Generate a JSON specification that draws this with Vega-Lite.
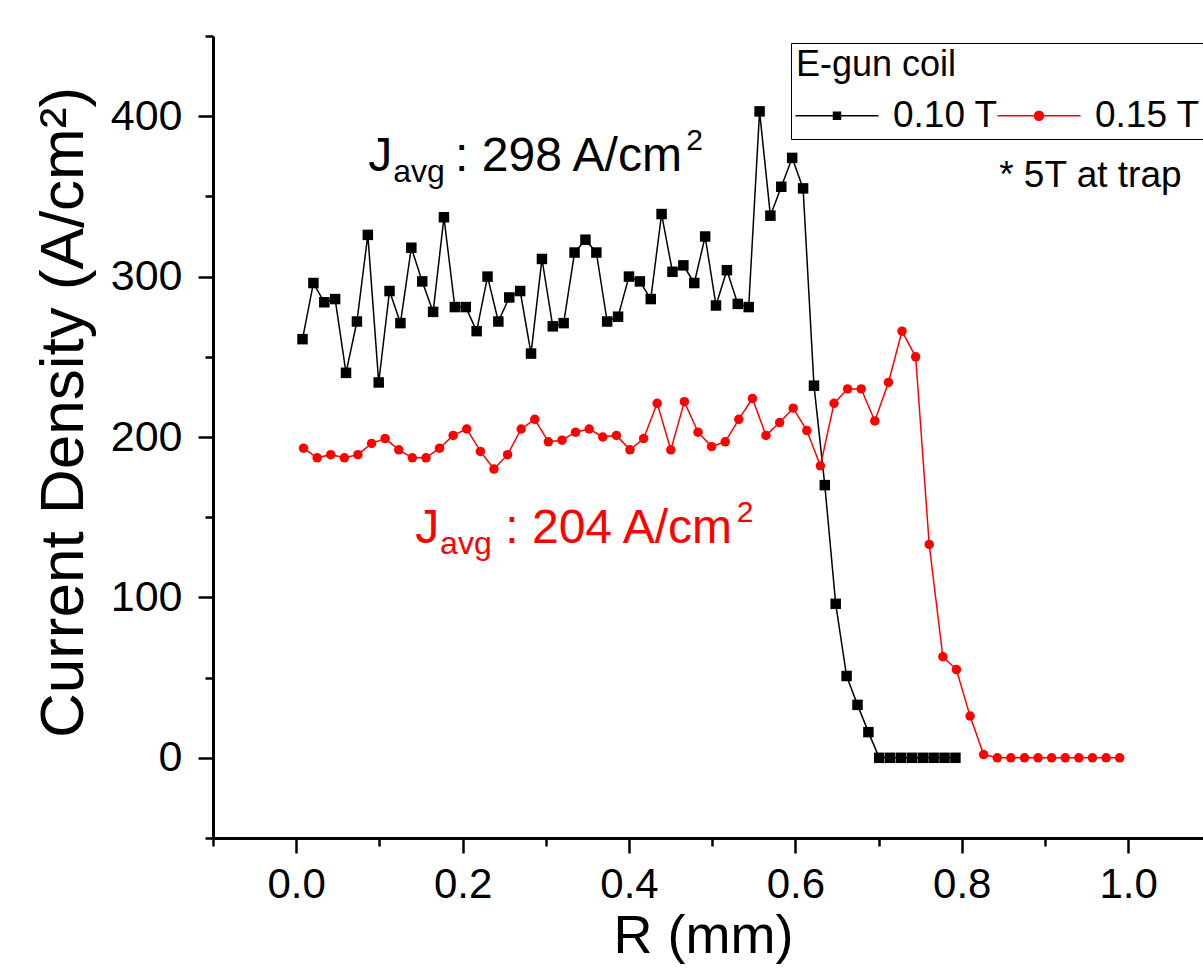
{
  "$schema": "https://vega.github.io/schema/vega-lite/v6.json",
  "autosize": {"type": "none"},
  "padding": {"left": 213, "top": 36, "right": 0, "bottom": 132},
  "width": 990,
  "height": 802,
  "background": "white",
  "config": {
    "font": "Liberation Sans",
    "view": {"stroke": null},
    "axis": {"labelFont": "Liberation Sans", "titleFont": "Liberation Sans", "labelColor": "black", "titleColor": "black", "domainColor": "black", "tickColor": "black", "grid": false, "titleFontWeight": "normal"},
    "legend": {"labelFont": "Liberation Sans", "titleFont": "Liberation Sans"}
  },
  "datasets": {
    "series": [
      {"R": 0.0076, "J": 261, "coil": "0.10 T"}, {"R": 0.0207, "J": 296, "coil": "0.10 T"}, {"R": 0.0338, "J": 284, "coil": "0.10 T"}, {"R": 0.0468, "J": 286, "coil": "0.10 T"}, {"R": 0.0599, "J": 240, "coil": "0.10 T"}, {"R": 0.073, "J": 272, "coil": "0.10 T"}, {"R": 0.0861, "J": 326, "coil": "0.10 T"}, {"R": 0.0992, "J": 234, "coil": "0.10 T"}, {"R": 0.1122, "J": 291, "coil": "0.10 T"}, {"R": 0.1253, "J": 271, "coil": "0.10 T"},
      {"R": 0.1384, "J": 318, "coil": "0.10 T"}, {"R": 0.1515, "J": 297, "coil": "0.10 T"}, {"R": 0.1646, "J": 278, "coil": "0.10 T"}, {"R": 0.1776, "J": 337, "coil": "0.10 T"}, {"R": 0.1907, "J": 281, "coil": "0.10 T"}, {"R": 0.2038, "J": 281, "coil": "0.10 T"}, {"R": 0.2169, "J": 266, "coil": "0.10 T"}, {"R": 0.23, "J": 300, "coil": "0.10 T"}, {"R": 0.243, "J": 272, "coil": "0.10 T"}, {"R": 0.2561, "J": 287, "coil": "0.10 T"},
      {"R": 0.2692, "J": 291, "coil": "0.10 T"}, {"R": 0.2823, "J": 252, "coil": "0.10 T"}, {"R": 0.2954, "J": 311, "coil": "0.10 T"}, {"R": 0.3084, "J": 269, "coil": "0.10 T"}, {"R": 0.3215, "J": 271, "coil": "0.10 T"}, {"R": 0.3346, "J": 315, "coil": "0.10 T"}, {"R": 0.3477, "J": 323, "coil": "0.10 T"}, {"R": 0.3608, "J": 315, "coil": "0.10 T"}, {"R": 0.3738, "J": 272, "coil": "0.10 T"}, {"R": 0.3869, "J": 275, "coil": "0.10 T"},
      {"R": 0.4, "J": 300, "coil": "0.10 T"}, {"R": 0.4131, "J": 297, "coil": "0.10 T"}, {"R": 0.4262, "J": 286, "coil": "0.10 T"}, {"R": 0.4392, "J": 339, "coil": "0.10 T"}, {"R": 0.4523, "J": 303, "coil": "0.10 T"}, {"R": 0.4654, "J": 307, "coil": "0.10 T"}, {"R": 0.4785, "J": 296, "coil": "0.10 T"}, {"R": 0.4916, "J": 325, "coil": "0.10 T"}, {"R": 0.5046, "J": 282, "coil": "0.10 T"}, {"R": 0.5177, "J": 304, "coil": "0.10 T"},
      {"R": 0.5308, "J": 283, "coil": "0.10 T"}, {"R": 0.5439, "J": 281, "coil": "0.10 T"}, {"R": 0.557, "J": 403, "coil": "0.10 T"}, {"R": 0.57, "J": 338, "coil": "0.10 T"}, {"R": 0.5831, "J": 356, "coil": "0.10 T"}, {"R": 0.5962, "J": 374, "coil": "0.10 T"}, {"R": 0.6093, "J": 355, "coil": "0.10 T"}, {"R": 0.6224, "J": 232, "coil": "0.10 T"}, {"R": 0.6354, "J": 170, "coil": "0.10 T"}, {"R": 0.6485, "J": 96, "coil": "0.10 T"},
      {"R": 0.6616, "J": 51, "coil": "0.10 T"}, {"R": 0.6747, "J": 33, "coil": "0.10 T"}, {"R": 0.6878, "J": 16, "coil": "0.10 T"}, {"R": 0.7008, "J": 0, "coil": "0.10 T"}, {"R": 0.7139, "J": 0, "coil": "0.10 T"}, {"R": 0.727, "J": 0, "coil": "0.10 T"}, {"R": 0.7401, "J": 0, "coil": "0.10 T"}, {"R": 0.7532, "J": 0, "coil": "0.10 T"}, {"R": 0.7662, "J": 0, "coil": "0.10 T"}, {"R": 0.7793, "J": 0, "coil": "0.10 T"}, {"R": 0.7924, "J": 0, "coil": "0.10 T"},
      {"R": 0.0088, "J": 193, "coil": "0.15 T"}, {"R": 0.0252, "J": 187, "coil": "0.15 T"}, {"R": 0.0415, "J": 189, "coil": "0.15 T"}, {"R": 0.0579, "J": 187, "coil": "0.15 T"}, {"R": 0.0742, "J": 189, "coil": "0.15 T"}, {"R": 0.0906, "J": 196, "coil": "0.15 T"}, {"R": 0.1069, "J": 199, "coil": "0.15 T"}, {"R": 0.1233, "J": 192, "coil": "0.15 T"}, {"R": 0.1396, "J": 187, "coil": "0.15 T"}, {"R": 0.156, "J": 187, "coil": "0.15 T"},
      {"R": 0.1723, "J": 193, "coil": "0.15 T"}, {"R": 0.1887, "J": 201, "coil": "0.15 T"}, {"R": 0.205, "J": 205, "coil": "0.15 T"}, {"R": 0.2214, "J": 191, "coil": "0.15 T"}, {"R": 0.2377, "J": 180, "coil": "0.15 T"}, {"R": 0.2541, "J": 189, "coil": "0.15 T"}, {"R": 0.2704, "J": 205, "coil": "0.15 T"}, {"R": 0.2868, "J": 211, "coil": "0.15 T"}, {"R": 0.3031, "J": 197, "coil": "0.15 T"}, {"R": 0.3195, "J": 198, "coil": "0.15 T"},
      {"R": 0.3358, "J": 203, "coil": "0.15 T"}, {"R": 0.3522, "J": 205, "coil": "0.15 T"}, {"R": 0.3685, "J": 200, "coil": "0.15 T"}, {"R": 0.3849, "J": 201, "coil": "0.15 T"}, {"R": 0.4012, "J": 192, "coil": "0.15 T"}, {"R": 0.4176, "J": 199, "coil": "0.15 T"}, {"R": 0.4339, "J": 221, "coil": "0.15 T"}, {"R": 0.4503, "J": 192, "coil": "0.15 T"}, {"R": 0.4666, "J": 222, "coil": "0.15 T"}, {"R": 0.483, "J": 203, "coil": "0.15 T"},
      {"R": 0.4993, "J": 194, "coil": "0.15 T"}, {"R": 0.5157, "J": 197, "coil": "0.15 T"}, {"R": 0.532, "J": 211, "coil": "0.15 T"}, {"R": 0.5484, "J": 224, "coil": "0.15 T"}, {"R": 0.5647, "J": 201, "coil": "0.15 T"}, {"R": 0.5811, "J": 209, "coil": "0.15 T"}, {"R": 0.5974, "J": 218, "coil": "0.15 T"}, {"R": 0.6138, "J": 204, "coil": "0.15 T"}, {"R": 0.6301, "J": 182, "coil": "0.15 T"}, {"R": 0.6465, "J": 221, "coil": "0.15 T"},
      {"R": 0.6628, "J": 230, "coil": "0.15 T"}, {"R": 0.6792, "J": 230, "coil": "0.15 T"}, {"R": 0.6955, "J": 210, "coil": "0.15 T"}, {"R": 0.7119, "J": 234, "coil": "0.15 T"}, {"R": 0.7282, "J": 266, "coil": "0.15 T"}, {"R": 0.7446, "J": 250, "coil": "0.15 T"}, {"R": 0.7609, "J": 133, "coil": "0.15 T"}, {"R": 0.7773, "J": 63, "coil": "0.15 T"}, {"R": 0.7936, "J": 55, "coil": "0.15 T"}, {"R": 0.81, "J": 26, "coil": "0.15 T"},
      {"R": 0.8263, "J": 2, "coil": "0.15 T"}, {"R": 0.8427, "J": 0, "coil": "0.15 T"}, {"R": 0.859, "J": 0, "coil": "0.15 T"}, {"R": 0.8754, "J": 0, "coil": "0.15 T"}, {"R": 0.8917, "J": 0, "coil": "0.15 T"}, {"R": 0.9081, "J": 0, "coil": "0.15 T"}, {"R": 0.9244, "J": 0, "coil": "0.15 T"}, {"R": 0.9408, "J": 0, "coil": "0.15 T"}, {"R": 0.9571, "J": 0, "coil": "0.15 T"}, {"R": 0.9735, "J": 0, "coil": "0.15 T"}, {"R": 0.9898, "J": 0, "coil": "0.15 T"}
    ],
    "mainText": [
      {"R": 0.0866, "J": 366, "text": "J", "coil": "0.10 T"},
      {"R": 0.191, "J": 366, "text": ": 298 A/cm", "coil": "0.10 T"},
      {"R": 0.143, "J": 134, "text": "J", "coil": "0.15 T"},
      {"R": 0.2513, "J": 134, "text": ": 204 A/cm", "coil": "0.15 T"}
    ],
    "subText": [
      {"R": 0.1166, "J": 359, "text": "avg", "coil": "0.10 T"},
      {"R": 0.173, "J": 127, "text": "avg", "coil": "0.15 T"}
    ],
    "supText": [
      {"R": 0.469, "J": 379, "text": "2", "coil": "0.10 T"},
      {"R": 0.5295, "J": 147, "text": "2", "coil": "0.15 T"}
    ],
    "note": [
      {"R": 0.845, "J": 356, "text": "* 5T at trap"}
    ]
  },
  "encoding": {
    "x": {
      "field": "R", "type": "quantitative",
      "scale": {"domain": [-0.1, 1.09], "nice": false, "zero": false},
      "axis": {
        "title": "R (mm)",
        "titleX": 490,
        "values": [-0.1, 0, 0.1, 0.2, 0.3, 0.4, 0.5, 0.6, 0.7, 0.8, 0.9, 1.0],
        "labelExpr": "(round(datum.value*10) % 2 == 0 && datum.value > -0.05) ? format(datum.value, '.1f') : ''",
        "tickSize": {"condition": {"test": "round(datum.value*10) % 2 == 0", "value": 15}, "value": 8},
        "tickWidth": 2.5,
        "domainWidth": 3,
        "labelFontSize": 42,
        "labelPadding": 11,
        "labelFlush": false,
        "labelOverlap": false,
        "titleFontSize": 54,
        "titlePadding": 4
      }
    },
    "y": {
      "field": "J", "type": "quantitative",
      "scale": {"domain": [-50, 450], "nice": false, "zero": false},
      "axis": {
        "title": "Current Density (A/cm²)",
        "titleY": 376,
        "values": [-50, 0, 50, 100, 150, 200, 250, 300, 350, 400, 450],
        "labelExpr": "(datum.value % 100 == 0 && datum.value >= 0 && datum.value <= 400) ? format(datum.value, 'd') : ''",
        "tickSize": {"condition": {"test": "datum.value % 100 == 0", "value": 15}, "value": 8},
        "tickWidth": 2.5,
        "domainWidth": 3,
        "labelFontSize": 43,
        "labelPadding": 16,
        "labelFlush": false,
        "labelOverlap": false,
        "titleFontSize": 62,
        "titlePadding": 15
      }
    }
  },
  "layer": [
    {
      "data": {"name": "series"},
      "mark": {"type": "line", "strokeWidth": 1.5},
      "encoding": {
        "color": {
          "field": "coil", "type": "nominal",
          "scale": {"domain": ["0.10 T", "0.15 T"], "range": ["black", "red"]},
          "legend": {
            "title": "E-gun coil",
            "orient": "none",
            "legendX": 578,
            "legendY": 7,
            "direction": "horizontal",
            "strokeColor": "black",
            "fillColor": "white",
            "padding": 5,
            "titleFontSize": 36,
            "titleFontWeight": "normal",
            "titleColor": "black",
            "titlePadding": 13,
            "labelFontSize": 37,
            "labelColor": "black",
            "labelOffset": 60,
            "columnPadding": -6,
            "symbolSize": 900,
            "labelExpr": "datum.value == '0.15 T' ? datum.label + '\u00a0\u00a0\u00a0\u00a0' : datum.label",
            "encode": {
              "symbols": {
                "update": {
                  "shape": {"signal": "datum.value == '0.10 T' ? 'M-1.267,0H4.267M1.267,-0.233H1.733V0.233H1.267Z' : 'M-1.267,0H4.267M1.2,0A0.3,0.3 0 1,0 1.8,0A0.3,0.3 0 1,0 1.2,0Z'"},
                  "fill": {"signal": "datum.value == '0.10 T' ? 'black' : 'red'"},
                  "stroke": {"signal": "datum.value == '0.10 T' ? 'black' : 'red'"},
                  "strokeWidth": {"value": 1.5},
                  "size": {"value": 900},
                  "opacity": {"value": 1},
                  "fillOpacity": {"value": 1}
                }
              }
            }
          }
        }
      }
    },
    {
      "data": {"name": "series"},
      "transform": [{"filter": "datum.coil == '0.10 T'"}],
      "mark": {"type": "point", "shape": "square", "filled": true, "color": "black", "size": 110, "opacity": 1}
    },
    {
      "data": {"name": "series"},
      "transform": [{"filter": "datum.coil == '0.15 T'"}],
      "mark": {"type": "point", "shape": "circle", "filled": true, "color": "red", "size": 90, "opacity": 1}
    },
    {
      "data": {"name": "mainText"},
      "mark": {"type": "text", "align": "left", "baseline": "alphabetic", "fontSize": 48, "font": "Liberation Sans"},
      "encoding": {
        "text": {"field": "text"},
        "color": {"condition": {"test": "datum.coil == '0.15 T'", "value": "red"}, "value": "black"}
      }
    },
    {
      "data": {"name": "subText"},
      "mark": {"type": "text", "align": "left", "baseline": "alphabetic", "fontSize": 32, "font": "Liberation Sans"},
      "encoding": {
        "text": {"field": "text"},
        "color": {"condition": {"test": "datum.coil == '0.15 T'", "value": "red"}, "value": "black"}
      }
    },
    {
      "data": {"name": "supText"},
      "mark": {"type": "text", "align": "left", "baseline": "alphabetic", "fontSize": 30, "font": "Liberation Sans"},
      "encoding": {
        "text": {"field": "text"},
        "color": {"condition": {"test": "datum.coil == '0.15 T'", "value": "red"}, "value": "black"}
      }
    },
    {
      "data": {"name": "note"},
      "mark": {"type": "text", "align": "left", "baseline": "alphabetic", "fontSize": 37, "font": "Liberation Sans", "color": "black"},
      "encoding": {"text": {"field": "text"}}
    },
    {
      "mark": {"type": "rule", "color": "black", "strokeWidth": 3},
      "encoding": {"y": {"datum": 450}}
    }
  ]
}
